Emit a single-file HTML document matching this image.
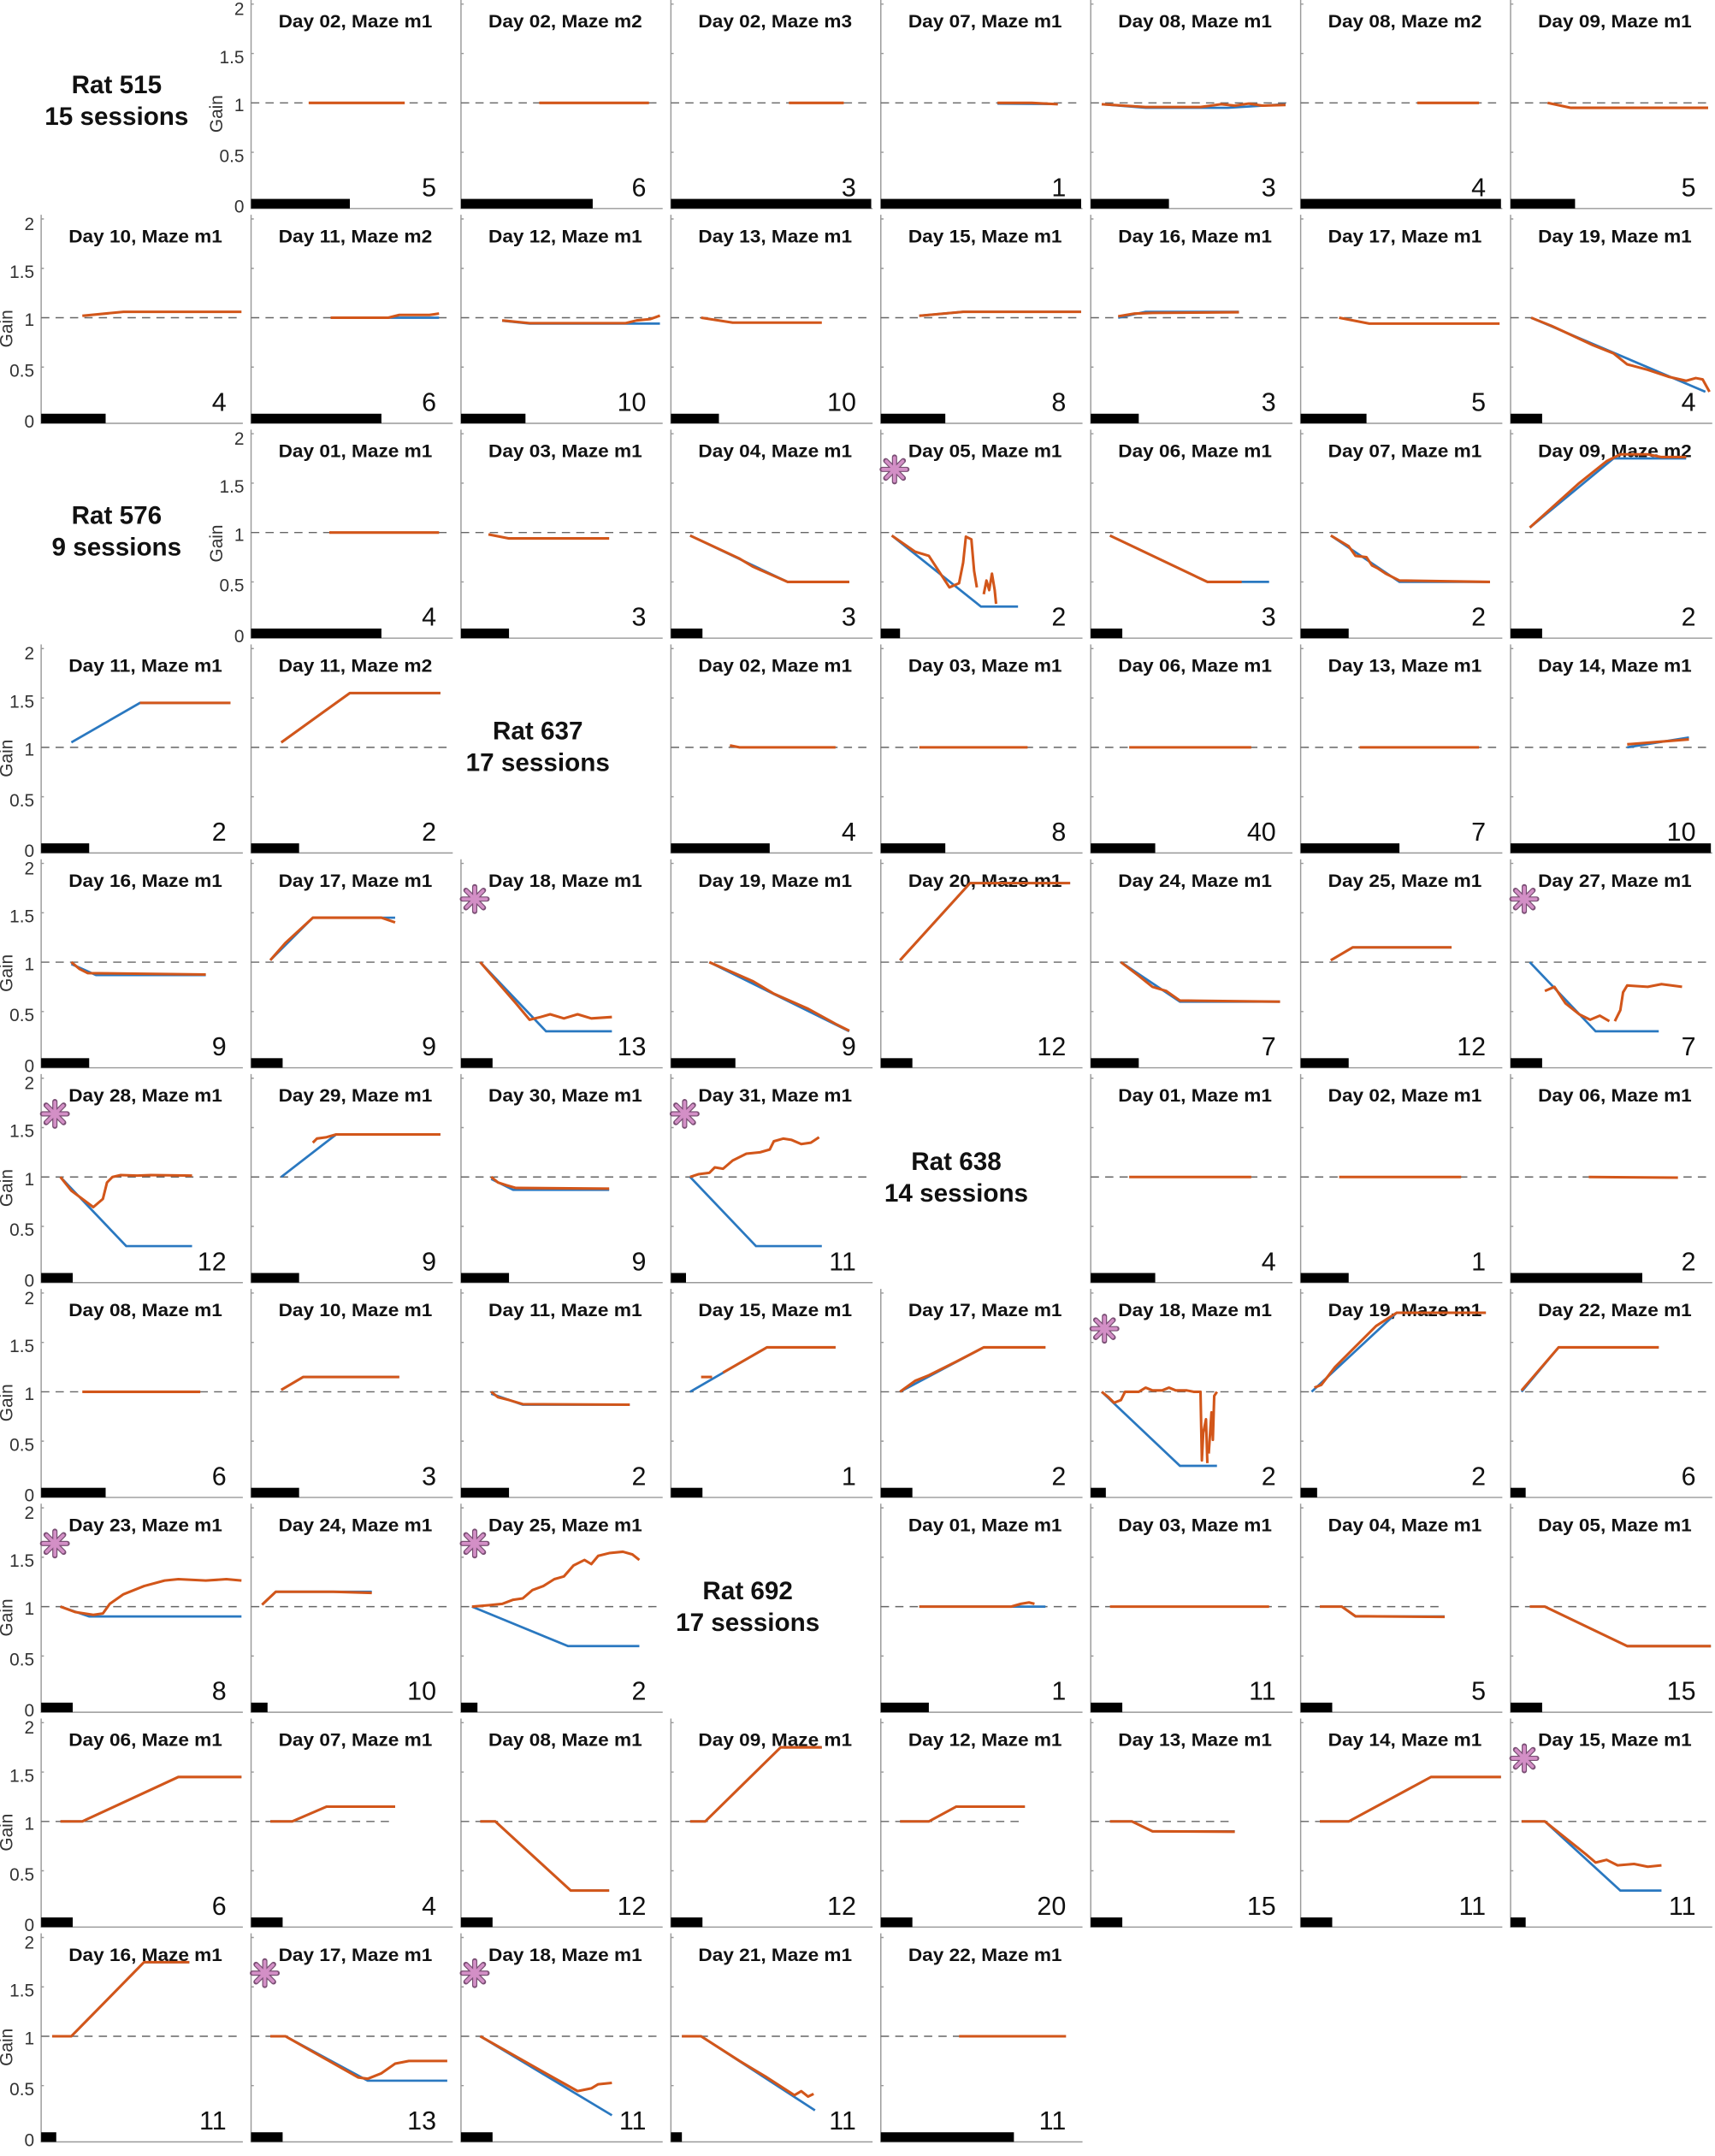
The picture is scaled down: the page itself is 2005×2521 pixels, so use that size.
<!DOCTYPE html>
<html><head><meta charset="utf-8"><style>
html,body{margin:0;padding:0;background:#fff}
svg{display:block}
text{font-family:"Liberation Sans",Arial,sans-serif;fill:#111}
.t{font-weight:bold;font-size:13.5px;text-anchor:middle}
.n{font-size:19px;text-anchor:end}
.k{font-size:13px;text-anchor:end;fill:#333}
.g{font-size:13px;text-anchor:middle;fill:#333}
.r{font-weight:bold;font-size:18.5px;text-anchor:middle}
.b{fill:none;stroke:#2a78c0;stroke-width:1.7}
.o{fill:none;stroke:#d2561a;stroke-width:1.9;stroke-linejoin:round}
.d{stroke:#666;stroke-width:0.9;stroke-dasharray:6,4.5}
.ax{stroke:#999;stroke-width:0.9;fill:none}
</style></head><body>
<svg width="2005" height="2521" viewBox="0 0 1250 1571.7" preserveAspectRatio="none" xmlns="http://www.w3.org/2000/svg">
<defs>
<g id="ax"><path class="ax" d="M0,-75V77H147M0,-72h2M0,-36h2M0,36h2"/></g>
<g id="st"><g stroke="#7a4f74" stroke-width="3.8" stroke-linecap="round"><path d="M-9,0H9M0,-9V9M-6.4,-6.4L6.4,6.4M-6.4,6.4L6.4,-6.4"/></g><g stroke="#d38fc6" stroke-width="2.3" stroke-linecap="round"><path d="M-8.5,0H8.5M0,-8.5V8.5M-6,-6L6,6M-6,6L6,-6"/></g></g>
</defs>

<text class="r" x="85" y="68">Rat 515</text><text class="r" x="85" y="91">15 sessions</text>
<text class="r" x="85" y="382">Rat 576</text><text class="r" x="85" y="405">9 sessions</text>
<text class="r" x="392" y="539">Rat 637</text><text class="r" x="392" y="562">17 sessions</text>
<text class="r" x="697" y="853">Rat 638</text><text class="r" x="697" y="876">14 sessions</text>
<text class="r" x="545" y="1166">Rat 692</text><text class="r" x="545" y="1189">17 sessions</text>

<!-- ROW 0 -->
<g transform="translate(183,75)"><use href="#ax"/>
<text class="k" x="-5" y="-64">2</text><text class="k" x="-5" y="-29">1.5</text><text class="k" x="-5" y="6">1</text><text class="k" x="-5" y="43">0.5</text><text class="k" x="-5" y="80">0</text><text class="g" transform="translate(-21,8) rotate(-90)">Gain</text>
<line class="d" x1="0" y1="0" x2="147" y2="0"/><rect x="0" y="70" width="72" height="7"/><text class="t" x="76" y="-55" textLength="112" lengthAdjust="spacingAndGlyphs">Day 02, Maze m1</text><text class="n" x="135" y="68">5</text>
<polyline class="o" points="42,0 112,0"/></g>
<g transform="translate(336,75)"><use href="#ax"/><line class="d" x1="0" y1="0" x2="147" y2="0"/><rect x="0" y="70" width="96" height="7"/><text class="t" x="76" y="-55" textLength="112" lengthAdjust="spacingAndGlyphs">Day 02, Maze m2</text><text class="n" x="135" y="68">6</text>
<polyline class="o" points="57,0 137,0"/></g>
<g transform="translate(489,75)"><use href="#ax"/><line class="d" x1="0" y1="0" x2="147" y2="0"/><rect x="0" y="70" width="146" height="7"/><text class="t" x="76" y="-55" textLength="112" lengthAdjust="spacingAndGlyphs">Day 02, Maze m3</text><text class="n" x="135" y="68">3</text>
<polyline class="o" points="86,0 126,0"/></g>
<g transform="translate(642,75)"><use href="#ax"/><line class="d" x1="0" y1="0" x2="147" y2="0"/><rect x="0" y="70" width="146" height="7"/><text class="t" x="76" y="-55" textLength="112" lengthAdjust="spacingAndGlyphs">Day 07, Maze m1</text><text class="n" x="135" y="68">1</text>
<polyline class="b" points="85,0.5 129,0.8"/><polyline class="o" points="85,0 110,0 129,1"/></g>
<g transform="translate(795,75)"><use href="#ax"/><line class="d" x1="0" y1="0" x2="147" y2="0"/><rect x="0" y="70" width="57" height="7"/><text class="t" x="76" y="-55" textLength="112" lengthAdjust="spacingAndGlyphs">Day 08, Maze m1</text><text class="n" x="135" y="68">3</text>
<polyline class="b" points="8,1 40,3.6 100,3.6 142,1"/><polyline class="o" points="8,1 40,3 80,3 95,1 105,2 115,0.5 125,2 142,1.5"/></g>
<g transform="translate(948,75)"><use href="#ax"/><line class="d" x1="0" y1="0" x2="147" y2="0"/><rect x="0" y="70" width="146" height="7"/><text class="t" x="76" y="-55" textLength="112" lengthAdjust="spacingAndGlyphs">Day 08, Maze m2</text><text class="n" x="135" y="68">4</text>
<polyline class="o" points="85,0 130,0"/></g>
<g transform="translate(1101,75)"><use href="#ax"/><line class="d" x1="0" y1="0" x2="147" y2="0"/><rect x="0" y="70" width="47" height="7"/><text class="t" x="76" y="-55" textLength="112" lengthAdjust="spacingAndGlyphs">Day 09, Maze m1</text><text class="n" x="135" y="68">5</text>
<polyline class="o" points="27,0 44,3.6 144,3.6"/></g>

<!-- ROW 1 -->
<g transform="translate(30,231.6)"><use href="#ax"/>
<text class="k" x="-5" y="-64">2</text><text class="k" x="-5" y="-29">1.5</text><text class="k" x="-5" y="6">1</text><text class="k" x="-5" y="43">0.5</text><text class="k" x="-5" y="80">0</text><text class="g" transform="translate(-21,8) rotate(-90)">Gain</text>
<line class="d" x1="0" y1="0" x2="147" y2="0"/><rect x="0" y="70" width="47" height="7"/><text class="t" x="76" y="-55" textLength="112" lengthAdjust="spacingAndGlyphs">Day 10, Maze m1</text><text class="n" x="135" y="68">4</text>
<polyline class="o" points="30,-1.4 60,-4.3 146,-4.3"/></g>
<g transform="translate(183,231.6)"><use href="#ax"/><line class="d" x1="0" y1="0" x2="147" y2="0"/><rect x="0" y="70" width="95" height="7"/><text class="t" x="76" y="-55" textLength="112" lengthAdjust="spacingAndGlyphs">Day 11, Maze m2</text><text class="n" x="135" y="68">6</text>
<polyline class="b" points="58,0 137,0"/><polyline class="o" points="58,0 100,0 108,-2 130,-2 137,-3"/></g>
<g transform="translate(336,231.6)"><use href="#ax"/><line class="d" x1="0" y1="0" x2="147" y2="0"/><rect x="0" y="70" width="47" height="7"/><text class="t" x="76" y="-55" textLength="112" lengthAdjust="spacingAndGlyphs">Day 12, Maze m1</text><text class="n" x="135" y="68">10</text>
<polyline class="b" points="30,2.2 50,4.3 145,4.3"/><polyline class="o" points="30,2 50,4 120,4 128,2 138,1 145,-1.5"/></g>
<g transform="translate(489,231.6)"><use href="#ax"/><line class="d" x1="0" y1="0" x2="147" y2="0"/><rect x="0" y="70" width="35" height="7"/><text class="t" x="76" y="-55" textLength="112" lengthAdjust="spacingAndGlyphs">Day 13, Maze m1</text><text class="n" x="135" y="68">10</text>
<polyline class="o" points="22,0 45,3.6 110,3.6"/></g>
<g transform="translate(642,231.6)"><use href="#ax"/><line class="d" x1="0" y1="0" x2="147" y2="0"/><rect x="0" y="70" width="47" height="7"/><text class="t" x="76" y="-55" textLength="112" lengthAdjust="spacingAndGlyphs">Day 15, Maze m1</text><text class="n" x="135" y="68">8</text>
<polyline class="b" points="28,-1.4 60,-4.3 146,-4.3"/><polyline class="o" points="28,-1.4 60,-4.3 146,-4.3"/></g>
<g transform="translate(795,231.6)"><use href="#ax"/><line class="d" x1="0" y1="0" x2="147" y2="0"/><rect x="0" y="70" width="35" height="7"/><text class="t" x="76" y="-55" textLength="112" lengthAdjust="spacingAndGlyphs">Day 16, Maze m1</text><text class="n" x="135" y="68">3</text>
<polyline class="b" points="20,0 40,-4.3 108,-4.3"/><polyline class="o" points="20,-1 32,-3 45,-3.5 108,-4"/></g>
<g transform="translate(948,231.6)"><use href="#ax"/><line class="d" x1="0" y1="0" x2="147" y2="0"/><rect x="0" y="70" width="48" height="7"/><text class="t" x="76" y="-55" textLength="112" lengthAdjust="spacingAndGlyphs">Day 17, Maze m1</text><text class="n" x="135" y="68">5</text>
<polyline class="o" points="28,0 50,4.3 145,4.3"/></g>
<g transform="translate(1101,231.6)"><use href="#ax"/><line class="d" x1="0" y1="0" x2="147" y2="0"/><rect x="0" y="70" width="23" height="7"/><text class="t" x="76" y="-55" textLength="112" lengthAdjust="spacingAndGlyphs">Day 19, Maze m1</text><text class="n" x="135" y="68">4</text>
<polyline class="b" points="15,0 142,54"/><polyline class="o" points="15,0 30,6 60,20 75,26 85,34 100,38 115,43 128,46 135,44 140,45 145,54"/></g>

<!-- ROW 2 -->
<g transform="translate(183,388.2)"><use href="#ax"/>
<text class="k" x="-5" y="-64">2</text><text class="k" x="-5" y="-29">1.5</text><text class="k" x="-5" y="6">1</text><text class="k" x="-5" y="43">0.5</text><text class="k" x="-5" y="80">0</text><text class="g" transform="translate(-21,8) rotate(-90)">Gain</text>
<line class="d" x1="0" y1="0" x2="147" y2="0"/><rect x="0" y="70" width="95" height="7"/><text class="t" x="76" y="-55" textLength="112" lengthAdjust="spacingAndGlyphs">Day 01, Maze m1</text><text class="n" x="135" y="68">4</text>
<polyline class="o" points="57,0 137,0"/></g>
<g transform="translate(336,388.2)"><use href="#ax"/><line class="d" x1="0" y1="0" x2="147" y2="0"/><rect x="0" y="70" width="35" height="7"/><text class="t" x="76" y="-55" textLength="112" lengthAdjust="spacingAndGlyphs">Day 03, Maze m1</text><text class="n" x="135" y="68">3</text>
<polyline class="o" points="20,1.4 35,4.3 108,4.3"/></g>
<g transform="translate(489,388.2)"><use href="#ax"/><line class="d" x1="0" y1="0" x2="147" y2="0"/><rect x="0" y="70" width="23" height="7"/><text class="t" x="76" y="-55" textLength="112" lengthAdjust="spacingAndGlyphs">Day 04, Maze m1</text><text class="n" x="135" y="68">3</text>
<polyline class="b" points="14,2.2 85,36 130,36"/><polyline class="o" points="14,2.2 50,19 60,25 85,36 130,36"/></g>
<g transform="translate(642,388.2)"><use href="#ax"/><line class="d" x1="0" y1="0" x2="147" y2="0"/><rect x="0" y="70" width="14" height="7"/><text class="t" x="76" y="-55" textLength="112" lengthAdjust="spacingAndGlyphs">Day 05, Maze m1</text><text class="n" x="135" y="68">2</text><use href="#st" x="10" y="-46"/>
<polyline class="b" points="8,2.2 73,54 100,54"/><polyline class="o" points="8,2.2 25,14 35,17 50,40 57,37 60,22 62,3 66,5 68,28 70,40"/><polyline class="o" points="75,45 77,35 79,42 81,30 83,42 84,52"/></g>
<g transform="translate(795,388.2)"><use href="#ax"/><line class="d" x1="0" y1="0" x2="147" y2="0"/><rect x="0" y="70" width="23" height="7"/><text class="t" x="76" y="-55" textLength="112" lengthAdjust="spacingAndGlyphs">Day 06, Maze m1</text><text class="n" x="135" y="68">3</text>
<polyline class="b" points="14,2.2 85,36 130,36"/><polyline class="o" points="14,2.2 85,36 110,36"/></g>
<g transform="translate(948,388.2)"><use href="#ax"/><line class="d" x1="0" y1="0" x2="147" y2="0"/><rect x="0" y="70" width="35" height="7"/><text class="t" x="76" y="-55" textLength="112" lengthAdjust="spacingAndGlyphs">Day 07, Maze m1</text><text class="n" x="135" y="68">2</text>
<polyline class="b" points="22,2.2 72,36 138,36"/><polyline class="o" points="22,2.2 35,10 40,17 48,18 52,24 56,26 62,30 72,35 138,36"/></g>
<g transform="translate(1101,388.2)"><use href="#ax"/><line class="d" x1="0" y1="0" x2="147" y2="0"/><rect x="0" y="70" width="23" height="7"/><text class="t" x="76" y="-55" textLength="112" lengthAdjust="spacingAndGlyphs">Day 09, Maze m2</text><text class="n" x="135" y="68">2</text>
<polyline class="b" points="14,-3.6 75,-54 128,-54"/><polyline class="o" points="14,-3.6 50,-36 70,-52 80,-57 100,-57 110,-55 128,-55"/></g>

<!-- ROW 3 -->
<g transform="translate(30,544.8)"><use href="#ax"/>
<text class="k" x="-5" y="-64">2</text><text class="k" x="-5" y="-29">1.5</text><text class="k" x="-5" y="6">1</text><text class="k" x="-5" y="43">0.5</text><text class="k" x="-5" y="80">0</text><text class="g" transform="translate(-21,8) rotate(-90)">Gain</text>
<line class="d" x1="0" y1="0" x2="147" y2="0"/><rect x="0" y="70" width="35" height="7"/><text class="t" x="76" y="-55" textLength="112" lengthAdjust="spacingAndGlyphs">Day 11, Maze m1</text><text class="n" x="135" y="68">2</text>
<polyline class="b" points="22,-3.6 72,-32.4 138,-32.4"/><polyline class="o" points="72,-32.4 138,-32.4"/></g>
<g transform="translate(183,544.8)"><use href="#ax"/><line class="d" x1="0" y1="0" x2="147" y2="0"/><rect x="0" y="70" width="35" height="7"/><text class="t" x="76" y="-55" textLength="112" lengthAdjust="spacingAndGlyphs">Day 11, Maze m2</text><text class="n" x="135" y="68">2</text>
<polyline class="b" points="22,-3.6 72,-39.6 138,-39.6"/><polyline class="o" points="22,-3.6 72,-39.6 138,-39.6"/></g>
<g transform="translate(489,544.8)"><use href="#ax"/><line class="d" x1="0" y1="0" x2="147" y2="0"/><rect x="0" y="70" width="72" height="7"/><text class="t" x="76" y="-55" textLength="112" lengthAdjust="spacingAndGlyphs">Day 02, Maze m1</text><text class="n" x="135" y="68">4</text>
<polyline class="o" points="43,-1.4 50,0 120,0"/></g>
<g transform="translate(642,544.8)"><use href="#ax"/><line class="d" x1="0" y1="0" x2="147" y2="0"/><rect x="0" y="70" width="47" height="7"/><text class="t" x="76" y="-55" textLength="112" lengthAdjust="spacingAndGlyphs">Day 03, Maze m1</text><text class="n" x="135" y="68">8</text>
<polyline class="o" points="28,0 107,0"/></g>
<g transform="translate(795,544.8)"><use href="#ax"/><line class="d" x1="0" y1="0" x2="147" y2="0"/><rect x="0" y="70" width="47" height="7"/><text class="t" x="76" y="-55" textLength="112" lengthAdjust="spacingAndGlyphs">Day 06, Maze m1</text><text class="n" x="135" y="68">40</text>
<polyline class="o" points="28,0 117,0"/></g>
<g transform="translate(948,544.8)"><use href="#ax"/><line class="d" x1="0" y1="0" x2="147" y2="0"/><rect x="0" y="70" width="72" height="7"/><text class="t" x="76" y="-55" textLength="112" lengthAdjust="spacingAndGlyphs">Day 13, Maze m1</text><text class="n" x="135" y="68">7</text>
<polyline class="o" points="43,0 130,0"/></g>
<g transform="translate(1101,544.8)"><use href="#ax"/><line class="d" x1="0" y1="0" x2="147" y2="0"/><rect x="0" y="70" width="146" height="7"/><text class="t" x="76" y="-55" textLength="112" lengthAdjust="spacingAndGlyphs">Day 14, Maze m1</text><text class="n" x="135" y="68">10</text>
<polyline class="b" points="85,0 130,-7.2"/><polyline class="o" points="85,-2.2 130,-5.8"/></g>

<!-- ROW 4 -->
<g transform="translate(30,701.4)"><use href="#ax"/>
<text class="k" x="-5" y="-64">2</text><text class="k" x="-5" y="-29">1.5</text><text class="k" x="-5" y="6">1</text><text class="k" x="-5" y="43">0.5</text><text class="k" x="-5" y="80">0</text><text class="g" transform="translate(-21,8) rotate(-90)">Gain</text>
<line class="d" x1="0" y1="0" x2="147" y2="0"/><rect x="0" y="70" width="35" height="7"/><text class="t" x="76" y="-55" textLength="112" lengthAdjust="spacingAndGlyphs">Day 16, Maze m1</text><text class="n" x="135" y="68">9</text>
<polyline class="b" points="22,1.4 40,9.4 120,9.4"/><polyline class="o" points="22,0 28,5 34,8 120,9"/></g>
<g transform="translate(183,701.4)"><use href="#ax"/><line class="d" x1="0" y1="0" x2="147" y2="0"/><rect x="0" y="70" width="23" height="7"/><text class="t" x="76" y="-55" textLength="112" lengthAdjust="spacingAndGlyphs">Day 17, Maze m1</text><text class="n" x="135" y="68">9</text>
<polyline class="b" points="14,-1.4 45,-32.4 105,-32.4"/><polyline class="o" points="14,-1.4 25,-14 45,-32.4 95,-32.4 105,-29"/></g>
<g transform="translate(336,701.4)"><use href="#ax"/><line class="d" x1="0" y1="0" x2="147" y2="0"/><rect x="0" y="70" width="23" height="7"/><text class="t" x="76" y="-55" textLength="112" lengthAdjust="spacingAndGlyphs">Day 18, Maze m1</text><text class="n" x="135" y="68">13</text><use href="#st" x="10" y="-46"/>
<polyline class="b" points="14,0 62,50.4 110,50.4"/><polyline class="o" points="14,0 40,30 50,42 58,40 65,38 75,41 85,38 95,41 110,40"/></g>
<g transform="translate(489,701.4)"><use href="#ax"/><line class="d" x1="0" y1="0" x2="147" y2="0"/><rect x="0" y="70" width="47" height="7"/><text class="t" x="76" y="-55" textLength="112" lengthAdjust="spacingAndGlyphs">Day 19, Maze m1</text><text class="n" x="135" y="68">9</text>
<polyline class="b" points="28,0 130,50.4"/><polyline class="o" points="28,0 60,14 75,23 100,34 120,45 130,50"/></g>
<g transform="translate(642,701.4)"><use href="#ax"/><line class="d" x1="0" y1="0" x2="147" y2="0"/><rect x="0" y="70" width="23" height="7"/><text class="t" x="76" y="-55" textLength="112" lengthAdjust="spacingAndGlyphs">Day 20, Maze m1</text><text class="n" x="135" y="68">12</text>
<polyline class="b" points="14,-1.4 65,-57.6 138,-57.6"/><polyline class="o" points="14,-1.4 65,-57.6 138,-57.6"/></g>
<g transform="translate(795,701.4)"><use href="#ax"/><line class="d" x1="0" y1="0" x2="147" y2="0"/><rect x="0" y="70" width="35" height="7"/><text class="t" x="76" y="-55" textLength="112" lengthAdjust="spacingAndGlyphs">Day 24, Maze m1</text><text class="n" x="135" y="68">7</text>
<polyline class="b" points="22,0 65,28.8 138,28.8"/><polyline class="o" points="22,0 35,10 45,18 55,21 65,28 138,28.8"/></g>
<g transform="translate(948,701.4)"><use href="#ax"/><line class="d" x1="0" y1="0" x2="147" y2="0"/><rect x="0" y="70" width="35" height="7"/><text class="t" x="76" y="-55" textLength="112" lengthAdjust="spacingAndGlyphs">Day 25, Maze m1</text><text class="n" x="135" y="68">12</text>
<polyline class="b" points="22,-1.4 38,-10.8 110,-10.8"/><polyline class="o" points="22,-1.4 38,-10.8 110,-10.8"/></g>
<g transform="translate(1101,701.4)"><use href="#ax"/><line class="d" x1="0" y1="0" x2="147" y2="0"/><rect x="0" y="70" width="23" height="7"/><text class="t" x="76" y="-55" textLength="112" lengthAdjust="spacingAndGlyphs">Day 27, Maze m1</text><text class="n" x="135" y="68">7</text><use href="#st" x="10" y="-46"/>
<polyline class="b" points="14,0 62,50.4 108,50.4"/><polyline class="o" points="25,21 32,18 40,30 50,38 58,42 65,39 72,43"/><polyline class="o" points="76,43 80,35 82,22 85,17 100,18 110,16 125,18"/></g>

<!-- ROW 5 -->
<g transform="translate(30,858)"><use href="#ax"/>
<text class="k" x="-5" y="-64">2</text><text class="k" x="-5" y="-29">1.5</text><text class="k" x="-5" y="6">1</text><text class="k" x="-5" y="43">0.5</text><text class="k" x="-5" y="80">0</text><text class="g" transform="translate(-21,8) rotate(-90)">Gain</text>
<line class="d" x1="0" y1="0" x2="147" y2="0"/><rect x="0" y="70" width="23" height="7"/><text class="t" x="76" y="-55" textLength="112" lengthAdjust="spacingAndGlyphs">Day 28, Maze m1</text><text class="n" x="135" y="68">12</text><use href="#st" x="10" y="-46"/>
<polyline class="b" points="14,0 62,50.4 110,50.4"/><polyline class="o" points="14,0 22,10 30,16 38,22 45,16 48,4 52,0 58,-1.4 70,-1 80,-1.4 110,-1"/></g>
<g transform="translate(183,858)"><use href="#ax"/><line class="d" x1="0" y1="0" x2="147" y2="0"/><rect x="0" y="70" width="35" height="7"/><text class="t" x="76" y="-55" textLength="112" lengthAdjust="spacingAndGlyphs">Day 29, Maze m1</text><text class="n" x="135" y="68">9</text>
<polyline class="b" points="22,0 62,-31 138,-31"/><polyline class="o" points="45,-25 48,-28 55,-29 62,-31 138,-31"/></g>
<g transform="translate(336,858)"><use href="#ax"/><line class="d" x1="0" y1="0" x2="147" y2="0"/><rect x="0" y="70" width="35" height="7"/><text class="t" x="76" y="-55" textLength="112" lengthAdjust="spacingAndGlyphs">Day 30, Maze m1</text><text class="n" x="135" y="68">9</text>
<polyline class="b" points="22,1.4 38,9.4 108,9.4"/><polyline class="o" points="22,0 27,4 33,6 40,8 108,8.5"/></g>
<g transform="translate(489,858)"><use href="#ax"/><line class="d" x1="0" y1="0" x2="147" y2="0"/><rect x="0" y="70" width="11" height="7"/><text class="t" x="76" y="-55" textLength="112" lengthAdjust="spacingAndGlyphs">Day 31, Maze m1</text><text class="n" x="135" y="68">11</text><use href="#st" x="10" y="-46"/>
<polyline class="b" points="14,0 62,50.4 110,50.4"/><polyline class="o" points="14,0 20,-2 28,-3 32,-7 38,-6 45,-12 55,-17 65,-18 72,-20 75,-26 82,-28 88,-27 95,-24 102,-25 108,-29"/></g>
<g transform="translate(795,858)"><use href="#ax"/><line class="d" x1="0" y1="0" x2="147" y2="0"/><rect x="0" y="70" width="47" height="7"/><text class="t" x="76" y="-55" textLength="112" lengthAdjust="spacingAndGlyphs">Day 01, Maze m1</text><text class="n" x="135" y="68">4</text>
<polyline class="o" points="28,0 117,0"/></g>
<g transform="translate(948,858)"><use href="#ax"/><line class="d" x1="0" y1="0" x2="147" y2="0"/><rect x="0" y="70" width="35" height="7"/><text class="t" x="76" y="-55" textLength="112" lengthAdjust="spacingAndGlyphs">Day 02, Maze m1</text><text class="n" x="135" y="68">1</text>
<polyline class="o" points="28,0 117,0"/></g>
<g transform="translate(1101,858)"><use href="#ax"/><line class="d" x1="0" y1="0" x2="147" y2="0"/><rect x="0" y="70" width="96" height="7"/><text class="t" x="76" y="-55" textLength="112" lengthAdjust="spacingAndGlyphs">Day 06, Maze m1</text><text class="n" x="135" y="68">2</text>
<polyline class="o" points="57,0 122,0.5"/></g>

<!-- ROW 6 -->
<g transform="translate(30,1014.6)"><use href="#ax"/>
<text class="k" x="-5" y="-64">2</text><text class="k" x="-5" y="-29">1.5</text><text class="k" x="-5" y="6">1</text><text class="k" x="-5" y="43">0.5</text><text class="k" x="-5" y="80">0</text><text class="g" transform="translate(-21,8) rotate(-90)">Gain</text>
<line class="d" x1="0" y1="0" x2="147" y2="0"/><rect x="0" y="70" width="47" height="7"/><text class="t" x="76" y="-55" textLength="112" lengthAdjust="spacingAndGlyphs">Day 08, Maze m1</text><text class="n" x="135" y="68">6</text>
<polyline class="o" points="30,0 116,0"/></g>
<g transform="translate(183,1014.6)"><use href="#ax"/><line class="d" x1="0" y1="0" x2="147" y2="0"/><rect x="0" y="70" width="35" height="7"/><text class="t" x="76" y="-55" textLength="112" lengthAdjust="spacingAndGlyphs">Day 10, Maze m1</text><text class="n" x="135" y="68">3</text>
<polyline class="b" points="22,-1.4 38,-10.8 108,-10.8"/><polyline class="o" points="22,-1.4 38,-10.8 108,-10.8"/></g>
<g transform="translate(336,1014.6)"><use href="#ax"/><line class="d" x1="0" y1="0" x2="147" y2="0"/><rect x="0" y="70" width="35" height="7"/><text class="t" x="76" y="-55" textLength="112" lengthAdjust="spacingAndGlyphs">Day 11, Maze m1</text><text class="n" x="135" y="68">2</text>
<polyline class="b" points="22,1.4 45,9.4 123,9.4"/><polyline class="o" points="22,0 27,4 35,6 45,9 123,9.4"/></g>
<g transform="translate(489,1014.6)"><use href="#ax"/><line class="d" x1="0" y1="0" x2="147" y2="0"/><rect x="0" y="70" width="23" height="7"/><text class="t" x="76" y="-55" textLength="112" lengthAdjust="spacingAndGlyphs">Day 15, Maze m1</text><text class="n" x="135" y="68">1</text>
<polyline class="b" points="14,0 70,-32.4 120,-32.4"/><polyline class="o" points="22,-10.8 30,-10.8"/><polyline class="o" points="38,-14 70,-32.4 120,-32.4"/></g>
<g transform="translate(642,1014.6)"><use href="#ax"/><line class="d" x1="0" y1="0" x2="147" y2="0"/><rect x="0" y="70" width="23" height="7"/><text class="t" x="76" y="-55" textLength="112" lengthAdjust="spacingAndGlyphs">Day 17, Maze m1</text><text class="n" x="135" y="68">2</text>
<polyline class="b" points="14,0 75,-32.4 120,-32.4"/><polyline class="o" points="14,0 25,-8 35,-12 45,-17 55,-22 75,-32.4 120,-32.4"/></g>
<g transform="translate(795,1014.6)"><use href="#ax"/><line class="d" x1="0" y1="0" x2="147" y2="0"/><rect x="0" y="70" width="11" height="7"/><text class="t" x="76" y="-55" textLength="112" lengthAdjust="spacingAndGlyphs">Day 18, Maze m1</text><text class="n" x="135" y="68">2</text><use href="#st" x="10" y="-46"/>
<polyline class="b" points="8,0 65,54 92,54"/><polyline class="o" points="8,0 13,4 17,8 22,6 25,0 35,0 40,-3 45,-1 52,-1 57,-3 62,-1 70,-1 75,0 78,0 80,0 81,50 82,30 84,20 85,52"/><polyline class="o" points="86,45 88,15 89,35 90,3 92,0"/></g>
<g transform="translate(948,1014.6)"><use href="#ax"/><line class="d" x1="0" y1="0" x2="147" y2="0"/><rect x="0" y="70" width="12" height="7"/><text class="t" x="76" y="-55" textLength="112" lengthAdjust="spacingAndGlyphs">Day 19, Maze m1</text><text class="n" x="135" y="68">2</text>
<polyline class="b" points="8,0 70,-57.6 135,-57.6"/><polyline class="o" points="10,-3 15,-5 25,-18 40,-33 55,-48 70,-57.6 135,-57.6"/></g>
<g transform="translate(1101,1014.6)"><use href="#ax"/><line class="d" x1="0" y1="0" x2="147" y2="0"/><rect x="0" y="70" width="11" height="7"/><text class="t" x="76" y="-55" textLength="112" lengthAdjust="spacingAndGlyphs">Day 22, Maze m1</text><text class="n" x="135" y="68">6</text>
<polyline class="b" points="8,0 35,-32.4 108,-32.4"/><polyline class="o" points="8,-1 35,-32.4 108,-32.4"/></g>

<!-- ROW 7 -->
<g transform="translate(30,1171.2)"><use href="#ax"/>
<text class="k" x="-5" y="-64">2</text><text class="k" x="-5" y="-29">1.5</text><text class="k" x="-5" y="6">1</text><text class="k" x="-5" y="43">0.5</text><text class="k" x="-5" y="80">0</text><text class="g" transform="translate(-21,8) rotate(-90)">Gain</text>
<line class="d" x1="0" y1="0" x2="147" y2="0"/><rect x="0" y="70" width="23" height="7"/><text class="t" x="76" y="-55" textLength="112" lengthAdjust="spacingAndGlyphs">Day 23, Maze m1</text><text class="n" x="135" y="68">8</text><use href="#st" x="10" y="-46"/>
<polyline class="b" points="14,0 35,7.2 146,7.2"/><polyline class="o" points="14,0 25,4 38,6 45,5 50,-2 60,-9 75,-15 90,-19 100,-20 120,-19 135,-20 146,-19"/></g>
<g transform="translate(183,1171.2)"><use href="#ax"/><line class="d" x1="0" y1="0" x2="147" y2="0"/><rect x="0" y="70" width="12" height="7"/><text class="t" x="76" y="-55" textLength="112" lengthAdjust="spacingAndGlyphs">Day 24, Maze m1</text><text class="n" x="135" y="68">10</text>
<polyline class="b" points="8,-1.4 18,-10.8 88,-10.8"/><polyline class="o" points="8,-1.4 18,-10.8 60,-10.8 88,-10"/></g>
<g transform="translate(336,1171.2)"><use href="#ax"/><line class="d" x1="0" y1="0" x2="147" y2="0"/><rect x="0" y="70" width="12" height="7"/><text class="t" x="76" y="-55" textLength="112" lengthAdjust="spacingAndGlyphs">Day 25, Maze m1</text><text class="n" x="135" y="68">2</text><use href="#st" x="10" y="-46"/>
<polyline class="b" points="8,0 78,28.8 130,28.8"/><polyline class="o" points="8,0 20,-1 30,-2 38,-5 45,-6 52,-12 60,-15 68,-20 75,-22 82,-30 90,-34 95,-31 100,-37 108,-39 118,-40 125,-38 130,-34"/></g>
<g transform="translate(642,1171.2)"><use href="#ax"/><line class="d" x1="0" y1="0" x2="147" y2="0"/><rect x="0" y="70" width="35" height="7"/><text class="t" x="76" y="-55" textLength="112" lengthAdjust="spacingAndGlyphs">Day 01, Maze m1</text><text class="n" x="135" y="68">1</text>
<polyline class="b" points="28,0 120,0"/><polyline class="o" points="28,0 95,0 102,-2 108,-3 112,-2"/></g>
<g transform="translate(795,1171.2)"><use href="#ax"/><line class="d" x1="0" y1="0" x2="147" y2="0"/><rect x="0" y="70" width="23" height="7"/><text class="t" x="76" y="-55" textLength="112" lengthAdjust="spacingAndGlyphs">Day 03, Maze m1</text><text class="n" x="135" y="68">11</text>
<polyline class="o" points="14,0 130,0"/></g>
<g transform="translate(948,1171.2)"><use href="#ax"/><line class="d" x1="0" y1="0" x2="105" y2="0"/><rect x="0" y="70" width="23" height="7"/><text class="t" x="76" y="-55" textLength="112" lengthAdjust="spacingAndGlyphs">Day 04, Maze m1</text><text class="n" x="135" y="68">5</text>
<polyline class="b" points="14,0 30,0 40,7.2 105,7.2"/><polyline class="o" points="14,0 30,0 40,7 105,7.5"/></g>
<g transform="translate(1101,1171.2)"><use href="#ax"/><line class="d" x1="0" y1="0" x2="147" y2="0"/><rect x="0" y="70" width="23" height="7"/><text class="t" x="76" y="-55" textLength="112" lengthAdjust="spacingAndGlyphs">Day 05, Maze m1</text><text class="n" x="135" y="68">15</text>
<polyline class="b" points="14,0 25,0 85,28.8 146,28.8"/><polyline class="o" points="14,0 25,0 85,28.8 146,28.8"/></g>

<!-- ROW 8 -->
<g transform="translate(30,1327.8)"><use href="#ax"/>
<text class="k" x="-5" y="-64">2</text><text class="k" x="-5" y="-29">1.5</text><text class="k" x="-5" y="6">1</text><text class="k" x="-5" y="43">0.5</text><text class="k" x="-5" y="80">0</text><text class="g" transform="translate(-21,8) rotate(-90)">Gain</text>
<line class="d" x1="0" y1="0" x2="147" y2="0"/><rect x="0" y="70" width="23" height="7"/><text class="t" x="76" y="-55" textLength="112" lengthAdjust="spacingAndGlyphs">Day 06, Maze m1</text><text class="n" x="135" y="68">6</text>
<polyline class="b" points="14,0 30,0 100,-32.4 146,-32.4"/><polyline class="o" points="14,0 30,0 100,-32.4 146,-32.4"/></g>
<g transform="translate(183,1327.8)"><use href="#ax"/><line class="d" x1="0" y1="0" x2="105" y2="0"/><rect x="0" y="70" width="23" height="7"/><text class="t" x="76" y="-55" textLength="112" lengthAdjust="spacingAndGlyphs">Day 07, Maze m1</text><text class="n" x="135" y="68">4</text>
<polyline class="b" points="14,0 30,0 55,-10.8 105,-10.8"/><polyline class="o" points="14,0 30,0 55,-10.8 105,-10.8"/></g>
<g transform="translate(336,1327.8)"><use href="#ax"/><line class="d" x1="0" y1="0" x2="147" y2="0"/><rect x="0" y="70" width="23" height="7"/><text class="t" x="76" y="-55" textLength="112" lengthAdjust="spacingAndGlyphs">Day 08, Maze m1</text><text class="n" x="135" y="68">12</text>
<polyline class="b" points="14,0 25,0 80,50.4 108,50.4"/><polyline class="o" points="14,0 25,0 80,50.4 108,50.4"/></g>
<g transform="translate(489,1327.8)"><use href="#ax"/><line class="d" x1="0" y1="0" x2="147" y2="0"/><rect x="0" y="70" width="23" height="7"/><text class="t" x="76" y="-55" textLength="112" lengthAdjust="spacingAndGlyphs">Day 09, Maze m1</text><text class="n" x="135" y="68">12</text>
<polyline class="b" points="14,0 25,0 80,-54 110,-54"/><polyline class="o" points="14,0 25,0 80,-54 110,-54"/></g>
<g transform="translate(642,1327.8)"><use href="#ax"/><line class="d" x1="0" y1="0" x2="105" y2="0"/><rect x="0" y="70" width="23" height="7"/><text class="t" x="76" y="-55" textLength="112" lengthAdjust="spacingAndGlyphs">Day 12, Maze m1</text><text class="n" x="135" y="68">20</text>
<polyline class="b" points="14,0 35,0 55,-10.8 105,-10.8"/><polyline class="o" points="14,0 35,0 55,-10.8 105,-10.8"/></g>
<g transform="translate(795,1327.8)"><use href="#ax"/><line class="d" x1="0" y1="0" x2="105" y2="0"/><rect x="0" y="70" width="23" height="7"/><text class="t" x="76" y="-55" textLength="112" lengthAdjust="spacingAndGlyphs">Day 13, Maze m1</text><text class="n" x="135" y="68">15</text>
<polyline class="b" points="14,0 30,0 45,7.2 105,7.2"/><polyline class="o" points="14,0 30,0 45,7.2 105,7.5"/></g>
<g transform="translate(948,1327.8)"><use href="#ax"/><line class="d" x1="0" y1="0" x2="147" y2="0"/><rect x="0" y="70" width="23" height="7"/><text class="t" x="76" y="-55" textLength="112" lengthAdjust="spacingAndGlyphs">Day 14, Maze m1</text><text class="n" x="135" y="68">11</text>
<polyline class="b" points="14,0 35,0 95,-32.4 146,-32.4"/><polyline class="o" points="14,0 35,0 95,-32.4 146,-32.4"/></g>
<g transform="translate(1101,1327.8)"><use href="#ax"/><line class="d" x1="0" y1="0" x2="147" y2="0"/><rect x="0" y="70" width="11" height="7"/><text class="t" x="76" y="-55" textLength="112" lengthAdjust="spacingAndGlyphs">Day 15, Maze m1</text><text class="n" x="135" y="68">11</text><use href="#st" x="10" y="-46"/>
<polyline class="b" points="8,0 25,0 80,50.4 110,50.4"/><polyline class="o" points="8,0 25,0 55,24 62,30 70,28 78,32 90,31 100,33 110,32"/></g>

<!-- ROW 9 -->
<g transform="translate(30,1484.4)"><use href="#ax"/>
<text class="k" x="-5" y="-64">2</text><text class="k" x="-5" y="-29">1.5</text><text class="k" x="-5" y="6">1</text><text class="k" x="-5" y="43">0.5</text><text class="k" x="-5" y="80">0</text><text class="g" transform="translate(-21,8) rotate(-90)">Gain</text>
<line class="d" x1="0" y1="0" x2="147" y2="0"/><rect x="0" y="70" width="11" height="7"/><text class="t" x="76" y="-55" textLength="112" lengthAdjust="spacingAndGlyphs">Day 16, Maze m1</text><text class="n" x="135" y="68">11</text>
<polyline class="b" points="8,0 22,0 75,-54 108,-54"/><polyline class="o" points="8,0 22,0 75,-54 108,-54"/></g>
<g transform="translate(183,1484.4)"><use href="#ax"/><line class="d" x1="0" y1="0" x2="147" y2="0"/><rect x="0" y="70" width="23" height="7"/><text class="t" x="76" y="-55" textLength="112" lengthAdjust="spacingAndGlyphs">Day 17, Maze m1</text><text class="n" x="135" y="68">13</text><use href="#st" x="10" y="-46"/>
<polyline class="b" points="14,0 25,0 85,32.4 143,32.4"/><polyline class="o" points="14,0 25,0 78,30 85,31 95,27 105,20 115,18 143,18"/></g>
<g transform="translate(336,1484.4)"><use href="#ax"/><line class="d" x1="0" y1="0" x2="147" y2="0"/><rect x="0" y="70" width="23" height="7"/><text class="t" x="76" y="-55" textLength="112" lengthAdjust="spacingAndGlyphs">Day 18, Maze m1</text><text class="n" x="135" y="68">11</text><use href="#st" x="10" y="-46"/>
<polyline class="b" points="14,0 110,57.6"/><polyline class="o" points="14,0 60,26 85,40 95,38 100,35 110,34"/></g>
<g transform="translate(489,1484.4)"><use href="#ax"/><line class="d" x1="0" y1="0" x2="147" y2="0"/><rect x="0" y="70" width="8" height="7"/><text class="t" x="76" y="-55" textLength="112" lengthAdjust="spacingAndGlyphs">Day 21, Maze m1</text><text class="n" x="135" y="68">11</text>
<polyline class="b" points="8,0 22,0 105,54"/><polyline class="o" points="8,0 22,0 50,18 70,30 90,43 95,40 100,44 104,42"/></g>
<g transform="translate(642,1484.4)"><use href="#ax"/><line class="d" x1="0" y1="0" x2="135" y2="0"/><rect x="0" y="70" width="97" height="7"/><text class="t" x="76" y="-55" textLength="112" lengthAdjust="spacingAndGlyphs">Day 22, Maze m1</text><text class="n" x="135" y="68">11</text>
<polyline class="o" points="57,0 135,0"/></g>
</svg>
</body></html>
